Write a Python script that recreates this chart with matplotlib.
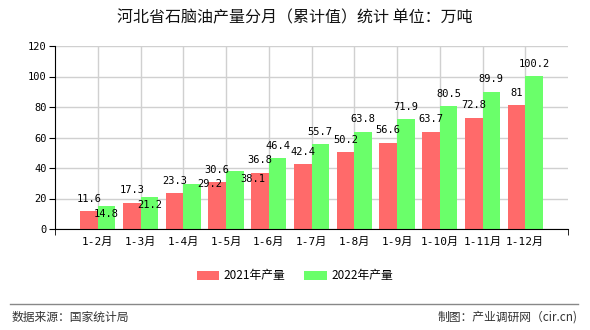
import matplotlib
matplotlib.use("Agg")
import matplotlib.pyplot as plt
import numpy as np

plt.rcParams['font.family'] = ['Noto Sans CJK SC', 'DejaVu Sans']

categories = ["1-2月", "1-3月", "1-4月", "1-5月", "1-6月", "1-7月",
              "1-8月", "1-9月", "1-10月", "1-11月", "1-12月"]
prod_2021 = [11.6, 17.3, 23.3, 30.6, 36.8, 42.4, 50.2, 56.6, 63.7, 72.8, 81]
prod_2022 = [14.8, 21.2, 29.2, 38.1, 46.4, 55.7, 63.8, 71.9, 80.5, 89.9, 100.2]
series_names = ["2021年产量", "2022年产量"]
y_ticks = [0, 20, 40, 60, 80, 100, 120]

red = "#FF6A6A"
green = "#6AFF6A"
mono = ['DejaVu Sans Mono', 'Noto Sans CJK SC']

fig = plt.figure(figsize=(5.9, 3.3), dpi=100)
ax = fig.add_axes([55/590, 1-229/330, (568-55)/590, (229-46)/330])

x = np.arange(len(categories))
w = 0.41
b1 = ax.bar(x - w/2, prod_2021, w, color=red, label=series_names[0], zorder=3)
b2 = ax.bar(x + w/2, prod_2022, w, color=green, label=series_names[1], zorder=3)

# label offsets in pixels (dx, dy) from bar top centre (label centre)
off_2022 = [(0, -8), (0, -8), (18, 0), (18, -8)] + [(0, 12.5)] * 7
for xi, v in zip(x, prod_2021):
    ax.annotate(f"{v:g}", (xi - w/2, v), xytext=(0, 12.5), textcoords='offset pixels',
                ha='center', va='center', fontsize=7.5, family=mono, zorder=5)
for xi, v, o in zip(x, prod_2022, off_2022):
    ax.annotate(f"{v:g}", (xi + w/2, v), xytext=o, textcoords='offset pixels',
                ha='center', va='center', fontsize=7.5, family=mono, zorder=5)

ax.set_xlim(-1, len(categories))
ax.set_ylim(0, 120)
ax.set_yticks(y_ticks)
ax.set_yticklabels([str(t) for t in y_ticks], family=mono, fontsize=7.5)
ax.set_xticks(x)
ax.set_xticklabels(categories, family=mono, fontsize=8)
ax.set_xticks([-1, len(categories)], minor=True)
ax.tick_params(axis='x', which='major', length=0, pad=6)
ax.tick_params(axis='x', which='minor', length=4, direction='out', color='black')
ax.tick_params(axis='y', length=4, direction='out', pad=2)

ax.grid(True, which='major', color='#D0D0D0', linewidth=1, zorder=0)
ax.set_axisbelow(True)
for s in ['top', 'right']:
    ax.spines[s].set_visible(False)
ax.spines['left'].set_color('black')
ax.spines['bottom'].set_color('black')
ax.spines['left'].set_zorder(4)
ax.spines['bottom'].set_zorder(4)

fig.text(0.5, 1-18/330, "河北省石脑油产量分月（累计值）统计 单位：万吨",
         ha='center', va='center', fontsize=11.5, color='#111111')

fig.legend(handles=[b1, b2], labels=series_names, loc='center',
           bbox_to_anchor=(0.5, 1-276/330), ncol=2, frameon=False,
           fontsize=8.5, handlelength=1.9, handleheight=0.9, columnspacing=1.6,
           handletextpad=0.4)

fig.add_artist(plt.Line2D([10/590, 578/590], [1-304/330, 1-304/330],
                          color='#888888', linewidth=1, transform=fig.transFigure))
fig.text(12/590, 1-317/330, "数据来源：国家统计局", ha='left', va='center',
         fontsize=8.5, color='#333333')
fig.text(578/590, 1-317/330, "制图：产业调研网（cir.cn)", ha='right', va='center',
         fontsize=8.5, color='#333333')

fig.savefig("out.png", dpi=100, facecolor='white')
